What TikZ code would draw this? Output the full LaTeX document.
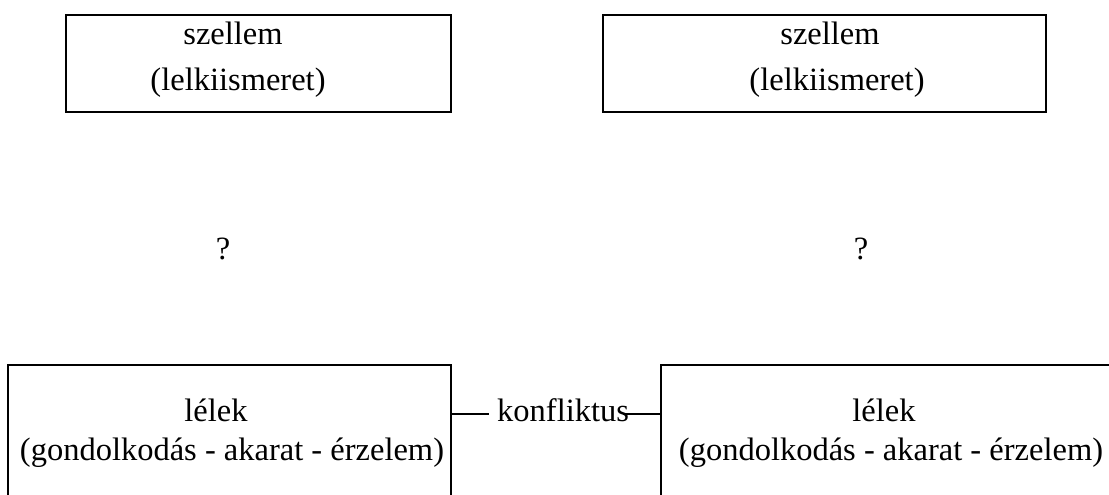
\documentclass[tikz,border=0pt]{standalone}
\usepackage{fontspec}
\setmainfont{Liberation Serif}
\tikzset{
  box/.style={draw, line width=2pt, inner sep=0pt, outer sep=0pt},
  txt/.style={inner sep=0pt, anchor=base, font=\fontsize{32.5}{39}\selectfont},
  link/.style={line width=2pt}
}
\begin{document}
\begin{tikzpicture}[x=1pt,y=-1pt]
\useasboundingbox (0,0) rectangle (1109,495);

% upper boxes: spirit (conscience)
\node[box, minimum width=385pt, minimum height=97pt] (s1) at (258.5,63.5) {};
\node[box, minimum width=443pt, minimum height=97pt] (s2) at (824.5,63.5) {};
\node[txt] (s1a) at (233,45) {szellem};
\node[txt] (s1b) at (238,91) {(lelkiismeret)};
\node[txt] (s2a) at (830,45) {szellem};
\node[txt] (s2b) at (837,91) {(lelkiismeret)};

% question marks between the levels
\node[txt] (q1) at (223,259) {?};
\node[txt] (q2) at (861,259) {?};

% lower boxes: soul, running past the bottom and right edges
\node[box, minimum width=443pt, minimum height=180pt] (l1) at (229.5,455) {};
\node[box, minimum width=480pt, minimum height=180pt] (l2) at (901,455) {};
\node[txt] (l1a) at (216,421) {lélek};
\node[txt] (l1b) at (232,460) {(gondolkodás - akarat - érzelem)};
\node[txt] (l2a) at (884,421) {lélek};
\node[txt] (l2b) at (891,460) {(gondolkodás - akarat - érzelem)};

% conflict between the two souls
\node[txt, anchor=base west] (konf) at (497,421) {konfliktus};
\coordinate (ka) at (489,414);
\coordinate (kb) at (623,414);
\draw[link] (l1.east |- ka) -- (ka);
\draw[link] (kb) -- (l2.west |- kb);
\end{tikzpicture}
\end{document}
